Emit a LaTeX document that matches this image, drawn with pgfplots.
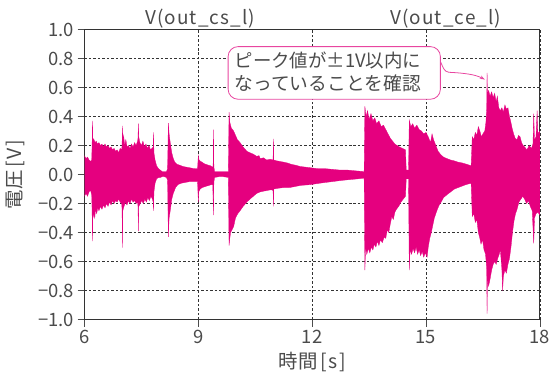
\documentclass[border=0pt]{standalone}
\usepackage{fontspec}
\setmainfont{Noto Sans CJK JP}
\usepackage{pgfplots}
\pgfplotsset{compat=1.18}
\usepgfplotslibrary{fillbetween}
\usetikzlibrary{arrows.meta}
\definecolor{wave}{RGB}{229,0,127}
\definecolor{callout}{RGB}{232,70,160}
\definecolor{txt}{RGB}{75,75,75}
\begin{document}
\begin{tikzpicture}
\begin{axis}[
  scale only axis, width=455.3bp, height=290bp,
  xmin=6, xmax=18, ymin=-1, ymax=1,
  xtick={6,9,12,15,18}, xticklabels={6,9,12,15,18},
  ytick={-1,-0.8,-0.6,-0.4,-0.2,0,0.2,0.4,0.6,0.8,1},
  yticklabels={−1.0,−0.8,−0.6,−0.4,−0.2,0.0,0.2,0.4,0.6,0.8,1.0},
  tick pos=left, tick align=outside, major tick length=7bp,
  tick style={black!70, line width=0.6pt},
  grid=major,
  grid style={black!80, dash pattern=on 2.5pt off 2pt, line width=0.5pt},
  axis line style={black!80, line width=0.8pt},
  tick label style={font=\fontsize{18.5}{20}\selectfont, text=txt},
  clip=false,
  xlabel={時間\kern3bp[\kern1.5bp s\kern1.5bp]}, ylabel={電圧\kern3bp[\kern1.5bp V\kern1.5bp]},
  label style={font=\fontsize{19.5}{21}\selectfont, text=txt},
  xlabel style={at={(axis description cs:0.5,-0.148)}, anchor=center},
  ylabel style={at={(axis description cs:-0.151,0.5)}, anchor=center},
]
\addplot[name path=U, draw=wave, line width=0.3pt] coordinates {
(6.00,0.13)(6.04,0.11)(6.08,0.12)(6.12,0.10)(6.16,0.09)(6.19,0.10)
(6.20,0.20)(6.21,0.37)(6.22,0.25)
(6.25,0.24)(6.28,0.22)(6.31,0.23)(6.34,0.21)(6.38,0.22)(6.42,0.20)(6.46,0.21)(6.50,0.19)(6.54,0.21)(6.58,0.19)(6.62,0.20)(6.66,0.18)(6.70,0.19)(6.74,0.17)(6.78,0.18)(6.82,0.16)(6.86,0.17)(6.90,0.15)(6.94,0.18)(6.98,0.17)
(6.99,0.20)(7.00,0.335)(7.01,0.22)
(7.03,0.27)(7.06,0.20)(7.09,0.24)(7.12,0.19)(7.16,0.20)(7.20,0.18)(7.24,0.21)(7.28,0.19)(7.32,0.22)(7.36,0.20)(7.40,0.23)
(7.41,0.25)(7.42,0.35)(7.43,0.26)
(7.46,0.22)(7.50,0.20)(7.54,0.23)(7.58,0.19)(7.62,0.21)(7.66,0.18)(7.70,0.20)(7.74,0.17)(7.78,0.18)
(7.81,0.19)(7.82,0.29)(7.83,0.15)
(7.86,0.10)(7.90,0.06)(7.95,0.04)(8.00,0.03)(8.05,0.02)(8.10,0.02)(8.16,0.02)(8.19,0.04)
(8.21,0.355)(8.23,0.28)(8.26,0.22)(8.30,0.15)(8.34,0.11)(8.38,0.085)(8.44,0.07)(8.50,0.065)(8.60,0.055)(8.70,0.05)(8.80,0.045)(8.90,0.04)(8.98,0.04)
(9.00,0.13)(9.02,0.10)(9.06,0.09)(9.10,0.085)(9.15,0.075)(9.20,0.07)(9.26,0.065)(9.32,0.06)(9.38,0.05)
(9.39,0.06)(9.40,0.31)(9.41,0.05)
(9.43,0.02)(9.50,0.02)(9.60,0.02)(9.70,0.02)(9.79,0.02)
(9.81,0.43)(9.83,0.36)(9.87,0.32)(9.93,0.30)(9.98,0.27)(10.03,0.24)(10.10,0.22)(10.18,0.19)(10.28,0.16)(10.36,0.15)(10.45,0.14)(10.54,0.125)(10.60,0.13)(10.63,0.11)(10.72,0.115)(10.80,0.10)(10.90,0.105)(10.97,0.10)
(10.98,0.245)(10.99,0.10)
(11.05,0.095)(11.15,0.09)(11.25,0.085)(11.34,0.08)(11.45,0.07)(11.55,0.065)(11.69,0.055)(11.85,0.05)(12.00,0.045)(12.15,0.04)(12.35,0.04)(12.55,0.035)(12.75,0.03)(12.95,0.03)(13.15,0.025)(13.37,0.02)
(13.39,0.47)(13.42,0.40)(13.46,0.44)(13.50,0.38)(13.55,0.42)(13.60,0.37)(13.65,0.39)(13.70,0.35)(13.76,0.37)(13.82,0.33)(13.88,0.34)(13.94,0.31)(14.00,0.28)(14.06,0.25)(14.12,0.23)(14.18,0.21)(14.24,0.20)(14.30,0.19)(14.38,0.18)(14.46,0.17)
(14.48,0.03)(14.54,0.03)
(14.56,0.375)(14.60,0.33)(14.65,0.35)(14.70,0.32)(14.76,0.34)(14.82,0.31)(14.88,0.30)(14.94,0.28)(15.00,0.29)(15.06,0.26)(15.12,0.22)(15.16,0.28)(15.20,0.24)(15.26,0.20)(15.32,0.16)(15.38,0.14)(15.46,0.12)(15.55,0.11)(15.65,0.10)(15.73,0.095)(15.85,0.085)(15.95,0.08)(16.08,0.07)(16.19,0.06)
(16.22,0.26)(16.26,0.24)(16.30,0.29)(16.34,0.27)(16.38,0.33)(16.42,0.30)(16.46,0.26)(16.50,0.28)(16.55,0.30)(16.58,0.36)
(16.60,0.45)(16.61,0.70)(16.62,0.55)(16.65,0.58)(16.69,0.54)(16.73,0.57)(16.77,0.53)(16.81,0.56)(16.85,0.50)(16.88,0.54)(16.92,0.46)(16.96,0.44)(17.00,0.46)(17.04,0.43)(17.08,0.48)(17.12,0.45)(17.16,0.46)(17.20,0.40)(17.23,0.37)(17.27,0.32)(17.31,0.28)(17.35,0.25)(17.40,0.24)(17.44,0.27)(17.48,0.26)(17.52,0.22)(17.56,0.20)(17.60,0.19)(17.66,0.17)(17.72,0.20)(17.78,0.18)(17.82,0.21)(17.84,0.42)(17.86,0.24)(17.90,0.26)(17.93,0.44)(17.95,0.28)(18.00,0.30)
};
\addplot[name path=L, draw=wave, line width=0.3pt] coordinates {
(6.00,-0.15)(6.04,-0.13)(6.08,-0.15)(6.12,-0.12)(6.16,-0.11)(6.19,-0.14)
(6.20,-0.25)(6.21,-0.46)(6.22,-0.30)
(6.25,-0.27)(6.27,-0.30)(6.29,-0.24)(6.32,-0.27)(6.35,-0.23)(6.38,-0.25)(6.42,-0.22)(6.46,-0.24)(6.50,-0.21)(6.54,-0.23)(6.58,-0.20)(6.62,-0.22)(6.66,-0.19)(6.70,-0.21)(6.74,-0.18)(6.78,-0.20)(6.82,-0.18)(6.86,-0.19)(6.90,-0.17)(6.94,-0.19)(6.98,-0.20)
(6.99,-0.24)(7.00,-0.505)(7.01,-0.25)
(7.04,-0.22)(7.08,-0.19)(7.12,-0.21)(7.16,-0.18)(7.20,-0.20)(7.24,-0.17)(7.28,-0.19)(7.32,-0.18)(7.36,-0.20)(7.40,-0.19)
(7.41,-0.22)(7.42,-0.39)(7.43,-0.22)
(7.47,-0.20)(7.51,-0.18)(7.55,-0.20)(7.59,-0.17)(7.63,-0.19)(7.67,-0.16)(7.71,-0.18)(7.75,-0.15)(7.79,-0.17)
(7.81,-0.19)(7.82,-0.25)(7.83,-0.12)
(7.86,-0.06)(7.90,-0.03)(7.95,-0.02)(8.00,-0.02)(8.05,-0.015)(8.10,-0.015)(8.16,-0.02)(8.19,-0.04)
(8.21,-0.43)(8.23,-0.30)(8.26,-0.25)(8.30,-0.17)(8.34,-0.13)(8.40,-0.09)(8.46,-0.07)(8.55,-0.06)(8.65,-0.055)(8.75,-0.05)(8.85,-0.05)(8.98,-0.05)
(9.00,-0.19)(9.01,-0.12)(9.05,-0.10)(9.10,-0.09)(9.16,-0.085)(9.22,-0.08)(9.28,-0.075)(9.34,-0.07)(9.38,-0.07)
(9.40,-0.28)(9.41,-0.05)(9.43,-0.02)(9.55,-0.015)(9.65,-0.015)(9.79,-0.02)
(9.81,-0.49)(9.83,-0.44)(9.85,-0.40)(9.89,-0.38)(9.93,-0.36)(9.98,-0.30)(10.04,-0.27)(10.10,-0.25)(10.18,-0.22)(10.28,-0.19)(10.36,-0.17)(10.45,-0.15)(10.54,-0.13)(10.63,-0.12)(10.72,-0.115)(10.82,-0.11)(10.92,-0.105)(10.97,-0.11)
(10.98,-0.22)(10.99,-0.10)
(11.10,-0.095)(11.25,-0.09)(11.40,-0.09)(11.51,-0.085)(11.70,-0.075)(11.95,-0.07)(12.20,-0.06)(12.50,-0.05)(12.80,-0.04)(13.00,-0.035)(13.20,-0.03)(13.37,-0.025)
(13.39,-0.66)(13.41,-0.50)(13.44,-0.55)(13.48,-0.51)(13.52,-0.54)(13.56,-0.50)(13.60,-0.52)(13.64,-0.48)(13.68,-0.50)(13.72,-0.46)(13.76,-0.49)(13.80,-0.45)(13.85,-0.47)(13.90,-0.43)(13.94,-0.44)(13.98,-0.38)(14.02,-0.40)(14.06,-0.34)(14.10,-0.29)(14.14,-0.31)(14.18,-0.26)(14.22,-0.24)(14.28,-0.22)(14.34,-0.19)(14.40,-0.17)(14.46,-0.15)
(14.48,-0.03)(14.54,-0.03)
(14.56,-0.66)(14.58,-0.52)(14.62,-0.55)(14.66,-0.51)(14.70,-0.54)(14.74,-0.50)(14.78,-0.55)(14.82,-0.52)(14.86,-0.56)(14.90,-0.53)(14.94,-0.57)(14.98,-0.54)(15.03,-0.57)
(15.06,-0.50)(15.10,-0.44)(15.14,-0.40)(15.18,-0.35)(15.22,-0.30)(15.26,-0.27)(15.30,-0.24)(15.35,-0.21)(15.40,-0.19)(15.46,-0.16)(15.55,-0.14)(15.65,-0.12)(15.75,-0.10)(15.85,-0.09)(15.95,-0.08)(16.05,-0.07)(16.19,-0.06)
(16.22,-0.29)(16.26,-0.27)(16.30,-0.33)(16.34,-0.31)(16.38,-0.40)(16.42,-0.44)(16.45,-0.48)(16.49,-0.45)(16.53,-0.52)(16.57,-0.55)
(16.60,-0.65)(16.61,-0.96)(16.62,-0.72)(16.65,-0.77)(16.69,-0.72)(16.73,-0.66)(16.77,-0.62)(16.81,-0.60)(16.85,-0.62)(16.89,-0.58)(16.93,-0.55)(16.96,-0.52)(17.00,-0.65)(17.02,-0.80)(17.04,-0.70)(17.08,-0.66)(17.12,-0.68)(17.16,-0.62)(17.20,-0.58)(17.24,-0.50)(17.28,-0.40)(17.32,-0.32)(17.36,-0.27)(17.40,-0.24)(17.45,-0.19)(17.50,-0.17)(17.55,-0.15)(17.60,-0.17)(17.65,-0.20)(17.70,-0.18)(17.75,-0.22)(17.80,-0.25)(17.84,-0.475)(17.86,-0.30)(17.90,-0.27)(17.95,-0.26)(18.00,-0.28)
};
\addplot[fill=wave, draw=none] fill between[of=U and L];
% top labels
\node[anchor=base, inner sep=0pt, font=\fontsize{19}{21}\selectfont\addfontfeature{LetterSpace=6}, text=txt] at (axis cs:9.05,1) [yshift=4.5bp] {V(out\_cs\_l)};
\node[anchor=base, inner sep=0pt, font=\fontsize{19}{21}\selectfont\addfontfeature{LetterSpace=6}, text=txt] at (axis cs:15.52,1) [yshift=4.5bp] {V(out\_ce\_l)};
% callout
\draw[callout, line width=0.8pt, fill=white, rounded corners=10bp] (axis cs:9.785,0.519) rectangle (axis cs:15.38,0.882);
\node[anchor=base west, inner sep=0pt, font=\fontsize{18.5}{20}\selectfont, text=txt] at (axis cs:9.95,0.737) {ピーク値が±1V以内に};
\node[anchor=base west, inner sep=0pt, font=\fontsize{18.8}{20}\selectfont, text=txt] at (axis cs:9.95,0.58) {なっていることを確認};
\draw[callout, line width=0.8pt, -{Stealth[length=5bp,width=3.5bp]}] (axis cs:15.38,0.78) .. controls (axis cs:15.45,0.74) and (axis cs:15.47,0.71) .. (axis cs:15.6,0.705) .. controls (axis cs:16.0,0.70) and (axis cs:16.3,0.69) .. (axis cs:16.55,0.655);
\end{axis}
\pgfresetboundingbox
\path[use as bounding box] (-84.5bp,-52.5bp) rectangle (466.5bp,319.5bp);
\end{tikzpicture}
\end{document}
